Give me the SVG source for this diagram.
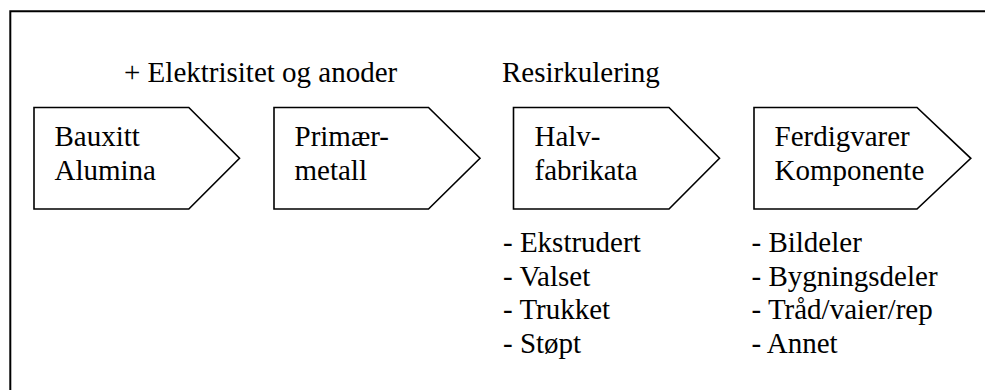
<svg xmlns="http://www.w3.org/2000/svg" width="985" height="390" viewBox="0 0 985 390">
  <style>
    .shape { fill: #ffffff; stroke: #000000; stroke-width: 1.6; stroke-linejoin: miter; }
    .frame { fill: none; stroke: #000000; stroke-width: 2; }
    .t { font-family: "Liberation Serif", "Times New Roman", serif; font-size: 29px; fill: #000000; }
  </style>
  <rect width="985" height="390" fill="#ffffff"/>
  <g id="frame">
    <path class="frame" d="M10.3,392 L10.3,11.3 L990,11.3"/>
  </g>
  <g id="labels">
    <text class="t" font-family="Liberation Serif" x="124" y="82">+ Elektrisitet og anoder</text>
    <text class="t" font-family="Liberation Serif" x="502" y="82">Resirkulering</text>
  </g>
  <g id="node-bauxitt">
    <polygon class="shape" points="34,107.5 188.8,107.5 239.5,158.3 188.8,209 34,209"/>
    <text class="t" font-family="Liberation Serif" x="54.5" y="146">Bauxitt</text>
    <text class="t" font-family="Liberation Serif" x="54.5" y="180">Alumina</text>
  </g>
  <g id="node-primaermetall">
    <polygon class="shape" points="274,107.5 428.5,107.5 480,158.3 428.5,209 274,209"/>
    <text class="t" font-family="Liberation Serif" x="294.5" y="146">Primær-</text>
    <text class="t" font-family="Liberation Serif" x="294.5" y="180">metall</text>
  </g>
  <g id="node-halvfabrikata">
    <polygon class="shape" points="513.5,107.5 669,107.5 719.5,158.3 669,209 513.5,209"/>
    <text class="t" font-family="Liberation Serif" x="534.5" y="146">Halv-</text>
    <text class="t" font-family="Liberation Serif" x="534.5" y="180">fabrikata</text>
  </g>
  <g id="node-ferdigvarer">
    <polygon class="shape" points="754,107.5 917,107.5 970.8,158.3 917,209 754,209"/>
    <text class="t" font-family="Liberation Serif" x="774.5" y="146">Ferdigvarer</text>
    <text class="t" font-family="Liberation Serif" x="774.5" y="180">Komponente</text>
  </g>
  <g id="list-halvfabrikata">
    <text class="t" font-family="Liberation Serif" x="503" y="252">- Ekstrudert</text>
    <text class="t" font-family="Liberation Serif" x="503" y="285.5">- Valset</text>
    <text class="t" font-family="Liberation Serif" x="503" y="319">- Trukket</text>
    <text class="t" font-family="Liberation Serif" x="503" y="352.5">- Støpt</text>
  </g>
  <g id="list-ferdigvarer">
    <text class="t" font-family="Liberation Serif" x="751.5" y="252">- Bildeler</text>
    <text class="t" font-family="Liberation Serif" x="751.5" y="285.5">- Bygningsdeler</text>
    <text class="t" font-family="Liberation Serif" x="751.5" y="319">- Tråd/vaier/rep</text>
    <text class="t" font-family="Liberation Serif" x="751.5" y="352.5">- Annet</text>
  </g>
  <g id="connectors"></g>
</svg>
